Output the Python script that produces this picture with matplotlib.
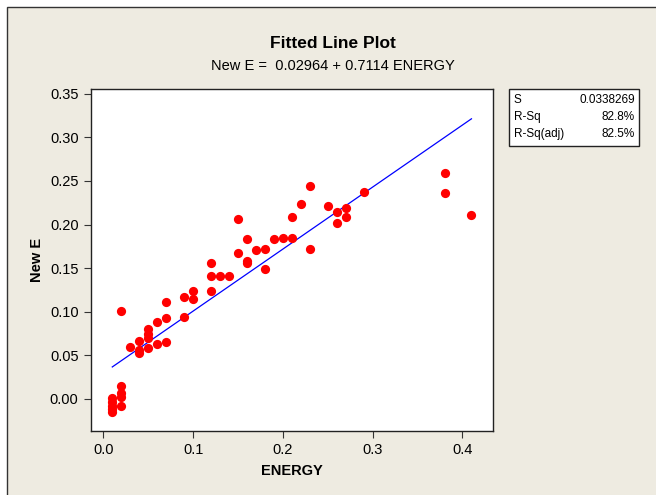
import matplotlib
matplotlib.use("Agg")
import matplotlib.pyplot as plt
import numpy as np

plt.rcParams['font.family'] = ['Liberation Sans', 'DejaVu Sans']

# data
energy = [0.01, 0.01, 0.01, 0.01, 0.01,
          0.02, 0.02, 0.02, 0.02, 0.02,
          0.03, 0.04, 0.04, 0.04,
          0.05, 0.05, 0.05, 0.05,
          0.06, 0.06, 0.07, 0.07, 0.07,
          0.09, 0.09, 0.10, 0.10,
          0.12, 0.12, 0.12, 0.13, 0.14,
          0.15, 0.15, 0.16, 0.16, 0.16,
          0.17, 0.18, 0.18, 0.19, 0.20,
          0.21, 0.21, 0.22, 0.23, 0.23,
          0.25, 0.26, 0.26, 0.27, 0.27,
          0.29, 0.38, 0.38, 0.41]
new_e = [0.001, -0.004, -0.008, -0.012, -0.015,
         0.101, 0.015, 0.007, 0.002, -0.008,
         0.060, 0.067, 0.056, 0.053,
         0.080, 0.075, 0.070, 0.058,
         0.088, 0.063, 0.111, 0.093, 0.065,
         0.117, 0.094, 0.124, 0.115,
         0.156, 0.141, 0.124, 0.141, 0.141,
         0.206, 0.168, 0.183, 0.158, 0.156,
         0.171, 0.172, 0.149, 0.184, 0.185,
         0.209, 0.185, 0.224, 0.244, 0.172,
         0.221, 0.215, 0.202, 0.219, 0.209,
         0.237, 0.259, 0.236, 0.211]

intercept = 0.02964
slope = 0.7114
stats_labels = ["S", "R-Sq", "R-Sq(adj)"]
stats_values = ["0.0338269", "82.8%", "82.5%"]

bg = '#EEEBE1'
fig = plt.figure(figsize=(6.56, 4.95), dpi=100, facecolor='white')
W, H = 656, 495

# beige panel with a thin frame, behind everything
fig.patches.append(plt.Rectangle((7 / W, -0.01), 1, 1.01 - 7 / H, transform=fig.transFigure,
                                 facecolor=bg, edgecolor='#333333', linewidth=1.0, zorder=-10))

ax = fig.add_axes([91 / W, 1 - 431 / H, (493 - 91) / W, (431 - 89) / H])
ax.set_facecolor('white')

ax.scatter(energy, new_e, s=44, color='#FF0000', zorder=3, linewidths=0)
xs = np.array(sorted(set(energy)))
ax.plot(xs, intercept + slope * xs, color='#0000FF', linewidth=0.9, zorder=2)

ax.set_xlim(-0.0137, 0.434)
ax.set_ylim(-0.0367, 0.3555)
ax.set_xticks([0.0, 0.1, 0.2, 0.3, 0.4])
ax.set_xticklabels(["0.0", "0.1", "0.2", "0.3", "0.4"])
ax.set_yticks([0.0, 0.05, 0.10, 0.15, 0.20, 0.25, 0.30, 0.35])
ax.set_yticklabels(["0.00", "0.05", "0.10", "0.15", "0.20", "0.25", "0.30", "0.35"])
ax.tick_params(direction='out', length=5, width=0.8, labelsize=10.5, color='#333333', pad=4)
for sp in ax.spines.values():
    sp.set_color('#222222')
    sp.set_linewidth(1.0)

ax.set_xlabel("ENERGY", fontsize=10.5, fontweight='bold', labelpad=5)
ax.set_ylabel("New E", fontsize=10.5, fontweight='bold', labelpad=4)

fig.text(333 / W, 1 - 44 / H, "Fitted Line Plot", ha='center', va='center',
         fontsize=12.5, fontweight='bold')
fig.text(333 / W, 1 - 66 / H, "New E =  0.02964 + 0.7114 ENERGY", ha='center',
         va='center', fontsize=10.5)

# stats box
fig.patches.append(plt.Rectangle((509 / W, 1 - 146 / H), (639 - 509) / W, (146 - 89) / H,
                                 transform=fig.transFigure, facecolor='white',
                                 edgecolor='#222222', linewidth=1.0))
for i, (lab, val) in enumerate(zip(stats_labels, stats_values)):
    yy = 1 - (100 + 17 * i) / H
    fig.text(514 / W, yy, lab, ha='left', va='center', fontsize=8.5)
    fig.text(635 / W, yy, val, ha='right', va='center', fontsize=8.5)

fig.savefig("out.png", dpi=100, facecolor=fig.get_facecolor())
